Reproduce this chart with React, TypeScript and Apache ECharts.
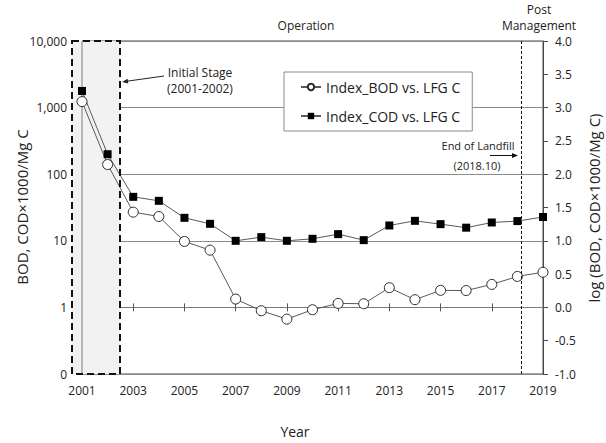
import React, { useEffect, useRef } from 'react';
import * as echarts from 'echarts';

// ---- Data (log10 of BOD, COD x1000 / Mg C) ----
const years = [2001, 2002, 2003, 2004, 2005, 2006, 2007, 2008, 2009, 2010, 2011, 2012, 2013, 2014, 2015, 2016, 2017, 2018, 2019];
const bodLog = [3.09, 2.145, 1.43, 1.365, 0.99, 0.86, 0.125, -0.05, -0.176, -0.035, 0.06, 0.055, 0.296, 0.116, 0.256, 0.253, 0.345, 0.465, 0.528];
const codLog = [3.25, 2.3, 1.66, 1.6, 1.345, 1.255, 1.0, 1.055, 1.0, 1.03, 1.1, 1.01, 1.23, 1.3, 1.25, 1.197, 1.275, 1.296, 1.357];
const leftTickLabels = ['0', '1', '10', '100', '1,000', '10,000'];
const seriesNames = ['Index_BOD vs. LFG C', 'Index_COD vs. LFG C'];
const endOfLandfillYear = 2018.17;

const FONT = '"Open Sans", "Noto Sans", sans-serif';
const TXT = '#222';

function txt(text: string, x: number, y: number, size: number, extra: any = {}, styleExtra: any = {}) {
  return {
    type: 'text',
    x,
    y,
    z: 6,
    ...extra,
    style: {
      text,
      fill: TXT,
      fontSize: size,
      fontFamily: FONT,
      align: 'center',
      verticalAlign: 'middle',
      textAlign: 'center',
      textVerticalAlign: 'middle',
      ...styleExtra,
    },
  };
}

export default function App() {
  const ref = useRef<HTMLDivElement>(null);
  useEffect(() => {
    if (!ref.current) return;
    const chart = echarts.init(ref.current, undefined, { renderer: 'svg' });
    const gL = 82, gT = 41, gW = 461, gH = 333;
    const shadeRight = 120;
    const shadeLeft = 72;

    const option: any = {
      animation: false,
      backgroundColor: '#fff',
      grid: {
        left: gL, top: gT, width: gW, height: gH,
        show: true, borderColor: '#4a4a4a', borderWidth: 1,
        backgroundColor: 'transparent', containLabel: false, outerBoundsMode: 'none',
      },
      legend: {
        data: seriesNames,
        orient: 'vertical',
        left: 284,
        top: 72,
        padding: [8, 12, 8, 16],
        itemGap: 15,
        itemWidth: 20,
        itemHeight: 8,
        backgroundColor: '#fff',
        borderColor: '#8a8a8a',
        borderWidth: 1,
        textStyle: { fontSize: 14, fontFamily: FONT, color: TXT },
      },
      xAxis: [
        {
          type: 'value', min: 2001, max: 2019, interval: 2, position: 'bottom',
          axisLine: { show: false, onZero: false },
          axisTick: { show: false },
          splitLine: { show: false },
          axisLabel: { color: TXT, fontSize: 12, fontFamily: FONT, margin: 10, formatter: (v: number) => String(v) },
        },
        {
          type: 'value', min: 2001, max: 2019, interval: 2, position: 'bottom',
          axisLine: { show: true, onZero: true, lineStyle: { color: '#7a7a7a', width: 1 } },
          axisTick: { show: true, inside: true, length: 4, lineStyle: { color: '#555' } },
          splitLine: { show: false },
          axisLabel: { show: false },
        },
        {
          type: 'value', min: 2001, max: 2019, interval: 2, position: 'bottom',
          axisLine: { show: false, onZero: true },
          axisTick: { show: true, inside: false, length: 4, lineStyle: { color: '#555' } },
          splitLine: { show: false },
          axisLabel: { show: false },
        },
      ],
      yAxis: [
        {
          type: 'value', min: -1, max: 4, interval: 1, position: 'left',
          axisLine: { show: true, lineStyle: { color: '#4a4a4a' } },
          axisTick: { show: true, length: 5, lineStyle: { color: '#4a4a4a' } },
          splitLine: { show: true, lineStyle: { color: '#8c8c8c', width: 1 } },
          axisLabel: {
            color: TXT, fontSize: 12, fontFamily: FONT, margin: 15,
            formatter: (v: number) => leftTickLabels[Math.round(v) + 1],
          },
        },
        {
          type: 'value', min: -1, max: 4, interval: 0.5, position: 'right',
          axisLine: { show: true, lineStyle: { color: '#4a4a4a' } },
          axisTick: { show: true, length: 5, lineStyle: { color: '#4a4a4a' } },
          splitLine: { show: false },
          axisLabel: {
            color: TXT, fontSize: 12, fontFamily: FONT, margin: 12,
            formatter: (v: number) => v.toFixed(1),
          },
        },
      ],
      series: [
        {
          name: seriesNames[0],
          type: 'line',
          xAxisIndex: 0,
          yAxisIndex: 0,
          data: years.map((y, i) => [y, bodLog[i]]),
          symbol: 'circle',
          symbolSize: 10,
          clip: false,
          itemStyle: { color: '#fff', borderColor: '#2a2a2a', borderWidth: 1 },
          lineStyle: { color: '#5a5a5a', width: 1 },
        },
        {
          name: seriesNames[1],
          type: 'line',
          xAxisIndex: 0,
          yAxisIndex: 0,
          data: years.map((y, i) => [y, codLog[i]]),
          symbol: 'rect',
          symbolSize: 8,
          clip: false,
          itemStyle: { color: '#000' },
          lineStyle: { color: '#5a5a5a', width: 1 },
          markLine: {
            silent: true,
            symbol: ['none', 'none'],
            label: { show: false },
            lineStyle: { color: '#111', type: [3, 2], width: 1 },
            data: [{ xAxis: endOfLandfillYear }],
          },
        },
      ],
      graphic: [
        { type: 'rect', z: 1, shape: { x: shadeLeft, y: gT, width: shadeRight - shadeLeft, height: gH }, style: { fill: '#f3f3f3' } },
        { type: 'line', z: 1.5, shape: { x1: gL, y1: gT, x2: gL, y2: gT + gH }, style: { stroke: '#4a4a4a', lineWidth: 1 } },
        { type: 'rect', z: 3, shape: { x: shadeLeft, y: gT, width: shadeRight - shadeLeft, height: gH }, style: { fill: 'rgba(243,243,243,0.3)' } },
        { type: 'rect', z: 4, shape: { x: shadeLeft, y: gT, width: shadeRight - shadeLeft, height: gH }, style: { fill: 'none', stroke: '#111', lineWidth: 2, lineDash: [7, 4] } },
        // Initial stage arrow
        { type: 'line', z: 5, shape: { x1: 164, y1: 76, x2: 127, y2: 81.2 }, style: { stroke: '#222', lineWidth: 1 } },
        { type: 'polygon', z: 5, shape: { points: [[122, 82], [128.3, 83.6], [127.6, 78.7]] }, style: { fill: '#222' } },
        // End of landfill arrow
        { type: 'line', z: 5, shape: { x1: 490, y1: 155.5, x2: 513, y2: 155.5 }, style: { stroke: '#111', lineWidth: 1 } },
        { type: 'polygon', z: 5, shape: { points: [[518, 155.5], [512, 153], [512, 158]] }, style: { fill: '#111' } },
        txt('End of Landfill', 478, 145, 11),
        txt('(2018.10)', 477, 165, 11),
        txt('Initial Stage', 200, 72, 12),
        txt('(2001-2002)', 200, 88, 12),
        txt('Operation', 306, 25, 12),
        txt('Post\nManagement', 539, 17, 12, {}, { lineHeight: 16 }),
        txt('Year', 295, 431, 14),
        txt('BOD, COD×1000/Mg C', 22, 207, 15, { rotation: Math.PI / 2 }),
        txt('log (BOD, COD×1000/Mg C)', 594, 208, 15, { rotation: Math.PI / 2 }),
      ],
    };
    chart.setOption(option);
    return () => chart.dispose();
  }, []);
  return <div ref={ref} style={{ position: 'fixed', left: 0, top: 0, width: 606, height: 443 }} />;
}
